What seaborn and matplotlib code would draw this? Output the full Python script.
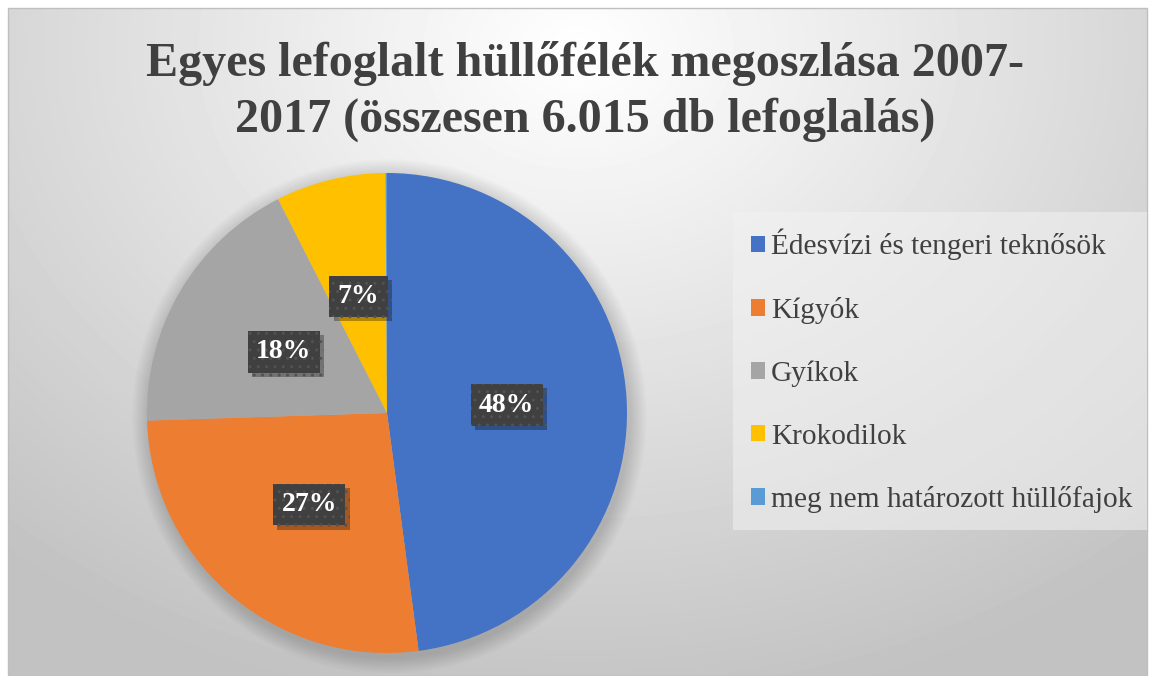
import numpy as np
import seaborn as sns
import matplotlib.pyplot as plt
from matplotlib.patches import Patch, Rectangle, Circle
from matplotlib import patheffects as pe

# data (total 6.015 seizures)
categories = ["Édesvízi és tengeri teknősök", "Kígyók", "Gyíkok",
              "Krokodilok", "meg nem határozott hüllőfajok"]
counts = [2881, 1600, 1083, 445, 6]
colors = ["#4472C4", "#ED7D31", "#A5A5A5", "#FFC000", "#5B9BD5"]

title = "Egyes lefoglalt hüllőfélék megoszlása 2007-\n2017 (összesen 6.015 db lefoglalás)"

sns.set_theme(style="white")
plt.rcParams['font.family'] = ['Liberation Serif', 'DejaVu Serif']
palette = sns.color_palette(colors)

W, H = 1151, 676
fig = plt.figure(figsize=(W / 100, H / 100), dpi=100)
fig.patch.set_facecolor("white")

# radial gradient background of the chart area
bg = fig.add_axes([8 / W, 0, (1147 - 8) / W, (676 - 8) / H])
bg.set_axis_off()
yy, xx = np.mgrid[0:668, 0:1139]
d = np.sqrt(((xx - 570) / 900) ** 2 + ((yy - 40) / 700) ** 2)
shade = np.clip(1.0 - 0.25 * d, 0.76, 1.0)
bg.imshow(shade, cmap="gray", vmin=0, vmax=1, aspect="auto", interpolation="bilinear")
fig.add_artist(Rectangle((8 / W, 0), (1147 - 8) / W, (676 - 8) / H,
                         transform=fig.transFigure, fill=False, ec="#bfbfbf", lw=1))

fig.text(585 / W, 1 - 41 / H, title, ha="center", va="top", fontsize=34.6,
         fontweight="bold", color="#404040", linespacing=1.32)

# pie
cx, cy, r = 387, 676 - 413, 240
ax = fig.add_axes([(cx - r) / W, (cy - r) / H, 2 * r / W, 2 * r / H])

# soft shadow behind the pie
for k in range(12):
    ax.add_patch(Circle((0.01, -0.015), 1.0 + 0.006 * (12 - k), color="black",
                        alpha=0.012, lw=0, zorder=0, clip_on=False))

wedges, _ = ax.pie(counts, colors=palette, startangle=90, counterclock=False,
                   radius=1.0, wedgeprops=dict(linewidth=0))
ax.set_xlim(-1, 1)
ax.set_ylim(-1, 1)
ax.set_axis_off()

total = sum(counts)
for w, c in zip(wedges, counts):
    pct = 100 * c / total
    if pct < 1:
        continue
    ang = np.deg2rad((w.theta1 + w.theta2) / 2)
    x, y = 0.5 * np.cos(ang), 0.5 * np.sin(ang)
    t = ax.text(x, y, f"{pct:.0f}%", ha="center", va="center", fontsize=20,
                fontweight="bold", color="white",
                bbox=dict(boxstyle="square,pad=0.3", fc="#404040", ec="#525252",
                          lw=0, hatch=".."))
    t.get_bbox_patch().set_path_effects(
        [pe.SimplePatchShadow(offset=(3, -3), shadow_rgbFace="black", alpha=0.3),
         pe.Normal()])

# legend
fig.add_artist(Rectangle((733 / W, 1 - 530 / H), (1147 - 733) / W, (530 - 212) / H,
                         transform=fig.transFigure, fc="#f2f2f2", ec="none", alpha=0.55))
handles = [Patch(fc=col, ec="none") for col in palette]
leg = fig.legend(handles, categories, loc="center left",
                 bbox_to_anchor=(724 / W, 1 - 371 / H), frameon=False,
                 fontsize=21.2, handlelength=0.5, handleheight=0.5,
                 handletextpad=0.2, labelspacing=1.24)
for t in leg.get_texts():
    t.set_color("#404040")

fig.savefig("out.png", dpi=100)
